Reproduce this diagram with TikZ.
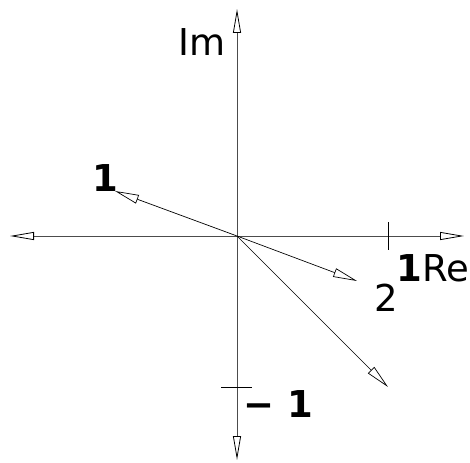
\documentclass[tikz,border=0pt]{standalone}
\usepackage{fontspec}
\setmainfont{DejaVu Sans}
\usetikzlibrary{arrows.meta}
\begin{document}
\begin{tikzpicture}[x=1pt,y=-1pt,
  axis/.style={draw=black!70,line width=0.8pt,-{Triangle[open,length=24pt,width=8pt,color=black]}},
  vec/.style={draw=black,line width=0.7pt,-{Triangle[open,length=24pt,width=9pt]}},
  tick/.style={draw=black,line width=0.8pt},
  lbl/.style={inner sep=0pt,font=\fontsize{37}{40}\selectfont}]
\useasboundingbox (0,0) rectangle (470,462);
\coordinate (O) at (237,236);
\coordinate (xl) at (10,236);
\coordinate (xr) at (464,236);
\coordinate (yt) at (237,9);
\coordinate (yb) at (237,460);
\coordinate (v1) at (115,191);
\coordinate (v2) at (357,281);
\coordinate (v3) at (388,387);
\coordinate (tx1) at (388,222);
\coordinate (tx2) at (388,250);
\coordinate (ty1) at (221,387);
\coordinate (ty2) at (252,387);
\draw[axis] (O) -- (xl);
\draw[axis] (O) -- (xr);
\draw[axis] (O) -- (yt);
\draw[axis] (O) -- (yb);
\draw[tick] (tx1) -- (tx2);
\draw[tick] (ty1) -- (ty2);
\draw[vec] (O) -- (v1);
\draw[vec] (O) -- (v2);
\draw[vec] (O) -- (v3);
\node[lbl] (lIm) at (202,42) {Im};
\node[lbl] (l1) at (105,178) {\textbf{1}};
\node[lbl] (lRe) at (433,268) {\textbf{1}Re};
\node[lbl] (l2) at (386,298) {2};
\node[lbl] (lm1) at (278,404) {\textbf{− 1}};
\end{tikzpicture}
\end{document}
